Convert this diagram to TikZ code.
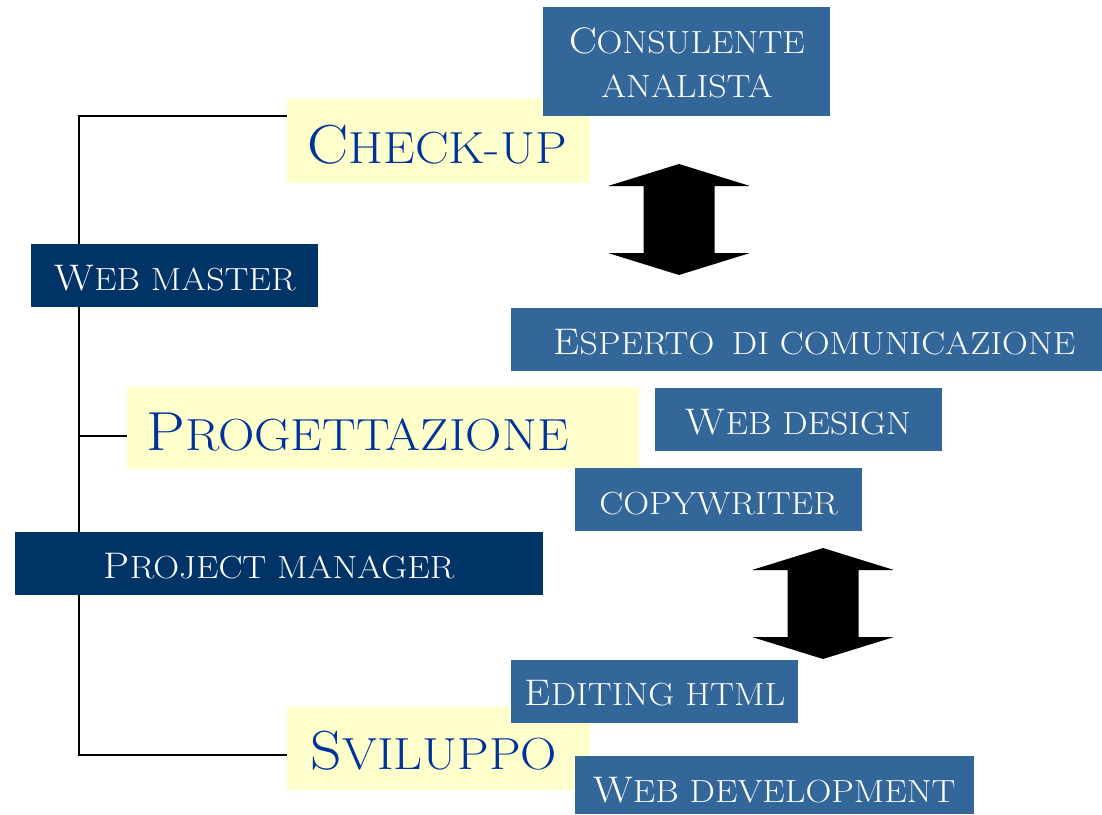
\documentclass[tikz,border=0pt]{standalone}
\usepackage{fontspec}
\setmainfont{lmroman17-regular}[Extension=.otf, FakeStretch=1.12]
\usepackage{xcolor}
\definecolor{lblue}{HTML}{336699}
\definecolor{navy}{HTML}{003366}
\definecolor{pale}{HTML}{FFFFCC}
\definecolor{tblue}{HTML}{003399}
\newcommand{\capA}{\fontsize{37}{40}\selectfont}
\newcommand{\capB}{\fontsize{32}{36}\selectfont}
\newcommand{\capL}{\fontsize{55}{60}\selectfont}
\newcommand{\capM}{\fontsize{45}{50}\selectfont}
\pgfdeclarelayer{back}
\pgfdeclarelayer{bg}
\pgfsetlayers{back,bg,main}
\tikzset{
  box/.style={rectangle, inner sep=0pt, outer sep=0pt, draw=none},
  role/.style={box, fill=lblue},
  lead/.style={box, fill=navy},
  phase/.style={box, fill=pale},
  rtext/.style={anchor=base, inner sep=0pt, text=white},
  ptext/.style={anchor=base, inner sep=0pt, text=tblue},
  link/.style={line width=1.6pt, black},
  blockarrow/.style={fill=black, draw=none}
}
\begin{document}
\begin{tikzpicture}[x=1pt,y=-1pt]
\useasboundingbox (0,0) rectangle (1102,814);
\begin{pgfonlayer}{back}
\fill[white] (0,0) rectangle (1102,814);
\end{pgfonlayer}

% phases (yellow)
\node[phase, minimum width=303pt, minimum height=84pt] (chk) at (438.5,141) {};
\node[phase, minimum width=512pt, minimum height=82pt] (prog) at (383,428) {};
\node[phase, minimum width=303pt, minimum height=83pt] (svil) at (438.5,748.5) {};
\node[ptext] (tchk) at (437,163) {{\capL C}{\capM HECK-UP}};
\node[ptext] (tprog) at (357.5,450) {{\capL P}{\capM ROGETTAZIONE}};
\node[ptext] (tsvil) at (434,769) {{\capL S}{\capM VILUPPO}};

% leads (navy)
\node[lead, minimum width=287pt, minimum height=63pt] (wm) at (174.5,275.5) {};
\node[lead, minimum width=528pt, minimum height=63pt] (pm) at (279,563.5) {};
\node[rtext] (twm) at (175,290) {{\capA W}{\capB EB MASTER}};
\node[rtext] (tpm) at (279,578) {{\capA P}{\capB ROJECT MANAGER}};

% roles (blue)
\node[role, minimum width=287pt, minimum height=109pt] (cons) at (686.5,61.5) {};
\node[role, minimum width=591pt, minimum height=63pt] (esp) at (806.5,339.5) {};
\node[role, minimum width=287pt, minimum height=63pt] (wd) at (798.5,419.5) {};
\node[role, minimum width=287pt, minimum height=63pt] (copy) at (718.5,499.5) {};
\node[role, minimum width=287pt, minimum height=63pt] (edit) at (654.5,691.5) {};
\node[role, minimum width=399pt, minimum height=58pt] (wdev) at (774.5,785) {};
\node[rtext] (tcons1) at (687,53) {{\capA C}{\capB ONSULENTE}};
\node[rtext] (tcons2) at (687,97) {{\capB ANALISTA}};
\node[rtext] (tesp) at (814.5,354) {{\capA E}{\capB SPERTO\hspace{0.55em}DI COMUNICAZIONE}};
\node[rtext] (twd) at (798.5,434) {{\capA W}{\capB EB DESIGN}};
\node[rtext] (tcopy) at (718.5,514) {{\capB COPYWRITER}};
\node[rtext] (tedit) at (655,705) {{\capA E}{\capB DITING HTML}};
\node[rtext] (twdev) at (774.5,802) {{\capA W}{\capB EB DEVELOPMENT}};

% tree connectors
\coordinate (j1) at (79,116);
\coordinate (j2) at (79,436);
\coordinate (j3) at (79,755);
\begin{pgfonlayer}{bg}
\draw[link] (j1 -| chk.west) -- (j1) -- (j3) -- (j3 -| svil.west);
\draw[link] (j2) -- (j2 -| prog.west);
\end{pgfonlayer}

% block double arrows
\fill[blockarrow] (679,164) -- (750,186) -- (714.5,186) -- (714.5,253) -- (750,253)
  -- (679,275) -- (608,253) -- (643.5,253) -- (643.5,186) -- (608,186) -- cycle;
\fill[blockarrow] (823,548) -- (894,570) -- (858.5,570) -- (858.5,637) -- (894,637)
  -- (823,659) -- (752,637) -- (787.5,637) -- (787.5,570) -- (752,570) -- cycle;
\end{tikzpicture}
\end{document}
